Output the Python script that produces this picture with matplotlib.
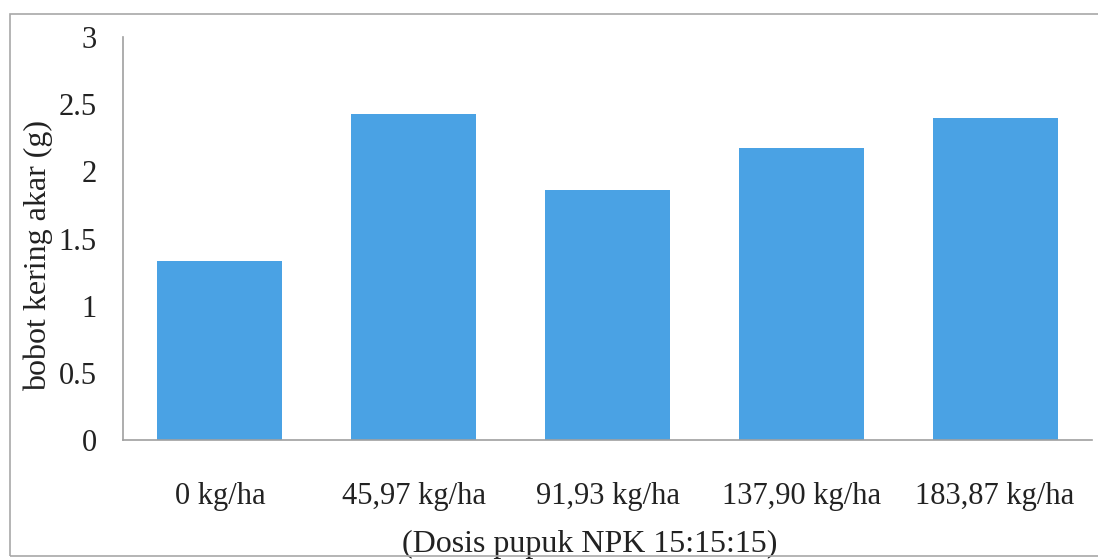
import matplotlib.pyplot as plt
from matplotlib.patches import Rectangle

# dry root weight per NPK dose
doses = ["0 kg/ha", "45,97 kg/ha", "91,93 kg/ha", "137,90 kg/ha", "183,87 kg/ha"]
bobot = [1.33, 2.43, 1.86, 2.17, 2.40]
yticks = [0, 0.5, 1, 1.5, 2, 2.5, 3]
ytick_labels = ["0", "0.5", "1", "1.5", "2", "2.5", "3"]

plt.rcParams['font.family'] = ['Liberation Serif', 'DejaVu Serif']

fig = plt.figure(figsize=(10.98, 5.59), dpi=100)
ax = fig.add_axes([123 / 1098, 1 - 440 / 559, (1092 - 123) / 1098, (440 - 37) / 559])

x = range(len(doses))
ax.bar(x, bobot, width=0.645, color='#4aa2e4')

ax.set_xlim(-0.5, 4.5)
ax.set_ylim(0, 3)
ax.set_yticks(yticks)
ax.set_yticklabels(ytick_labels, fontsize=22, color='#222222')
ax.set_xticks(list(x))
ax.set_xticklabels(doses, fontsize=22, color='#222222')
ax.tick_params(axis='y', length=0, pad=19)
ax.tick_params(axis='x', length=0, pad=30)

for side in ['top', 'right']:
    ax.spines[side].set_visible(False)
for side in ['left', 'bottom']:
    ax.spines[side].set_color('#a0a0a0')
    ax.spines[side].set_linewidth(1.2)

ax.set_ylabel("bobot kering akar (g)", fontsize=23, color='#222222')
ax.yaxis.set_label_coords(-0.072, 0.457)
ax.set_xlabel("(Dosis pupuk NPK 15:15:15)", fontsize=23, color='#222222')
ax.xaxis.set_label_coords(0.482, -0.222)

# outer frame around the chart area
fig.patches.append(Rectangle((10 / 1098, 3 / 559), 1.1, 542 / 559, transform=fig.transFigure,
                             fill=False, edgecolor='#a8a8a8', linewidth=1.2))

fig.savefig("out.png", dpi=100)
